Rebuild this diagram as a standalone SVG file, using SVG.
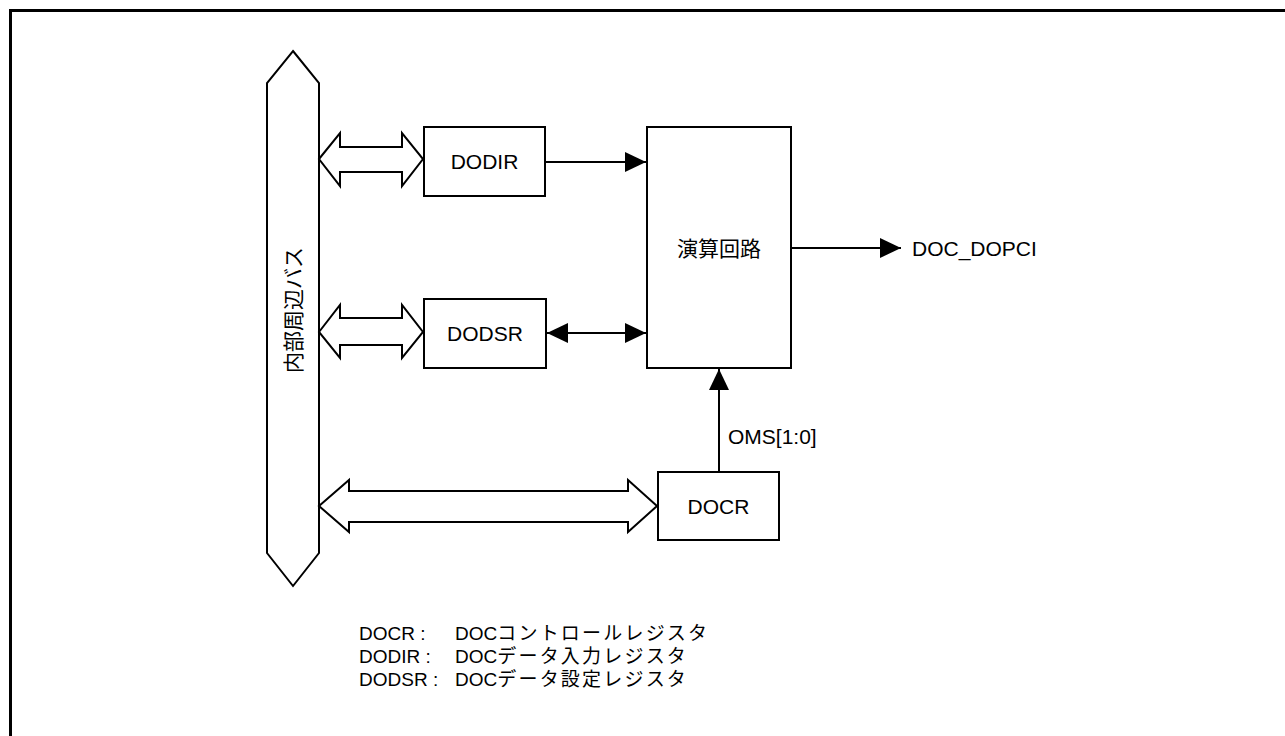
<svg xmlns="http://www.w3.org/2000/svg" width="1285" height="736" viewBox="0 0 1285 736">
<defs>
<style>
.ln{fill:none;stroke:#000;stroke-width:2}
.bx{fill:#fff;stroke:#000;stroke-width:2}
.t{font-family:"Liberation Sans",Arial,"Noto Sans CJK JP",sans-serif;font-size:21px;fill:#000}
.lg{font-family:"Liberation Sans",Arial,"Noto Sans CJK JP",sans-serif;font-size:19px;fill:#000}
.jp{letter-spacing:2.2px}
</style>
<marker id="ah" viewBox="0 0 21 20" refX="21" refY="10" markerWidth="21" markerHeight="20" markerUnits="userSpaceOnUse" orient="auto-start-reverse">
<path d="M0,0 L21,10 L0,20 Z" fill="#000"/>
</marker>
</defs>
<rect width="1285" height="736" fill="#fff"/>
<path d="M10.5,736 V10.5 H1285" fill="none" stroke="#000" stroke-width="3"/>
<g id="bus">
<polygon class="bx" points="293,51 319,83 319,553 293,586 267,553 267,83"/>
<text class="t" transform="translate(301,310) rotate(-90)" text-anchor="middle">内部周辺バス</text>
</g>
<g id="DODIR">
<rect class="bx" x="424" y="127" width="121" height="69"/>
<text class="t" x="484.5" y="169" text-anchor="middle">DODIR</text>
</g>
<g id="DODSR">
<rect class="bx" x="424" y="299" width="122" height="69"/>
<text class="t" x="485" y="341" text-anchor="middle">DODSR</text>
</g>
<g id="calc">
<rect class="bx" x="647" y="127" width="144" height="241"/>
<text class="t" x="719" y="256" text-anchor="middle">演算回路</text>
</g>
<g id="DOCR">
<rect class="bx" x="658" y="472" width="121" height="68"/>
<text class="t" x="718.5" y="513.5" text-anchor="middle">DOCR</text>
</g>
<g id="connectors">
<polygon class="bx" points="319,159 340,133 340,147 402,147 402,133 423,159 402,186 402,172 340,172 340,186"/>
<polygon class="bx" points="319,332 340,305 340,318 402,318 402,305 423,332 402,358 402,345 340,345 340,358"/>
<polygon class="bx" points="319,506 349,480 349,491 628,491 628,480 657,506 628,532 628,522 349,522 349,532"/>
<line class="ln" x1="545" y1="162" x2="646" y2="162" marker-end="url(#ah)"/>
<line class="ln" x1="547" y1="333" x2="646" y2="333" marker-start="url(#ah)" marker-end="url(#ah)"/>
<line class="ln" x1="791" y1="248" x2="901" y2="248" marker-end="url(#ah)"/>
<line class="ln" x1="719" y1="472" x2="719" y2="369" marker-end="url(#ah)"/>
</g>
<g id="labels">
<text class="t" x="912" y="256">DOC_DOPCI</text>
<text class="t" x="728" y="443.5">OMS[1:0]</text>
<text class="lg" x="359" y="640">DOCR :</text>
<text class="lg" x="455" y="640">DOC<tspan class="jp">コントロールレジスタ</tspan></text>
<text class="lg" x="359" y="663">DODIR :</text>
<text class="lg" x="455" y="663">DOC<tspan class="jp">データ入力レジスタ</tspan></text>
<text class="lg" x="359" y="686">DODSR :</text>
<text class="lg" x="455" y="686">DOC<tspan class="jp">データ設定レジスタ</tspan></text>
</g>
</svg>
